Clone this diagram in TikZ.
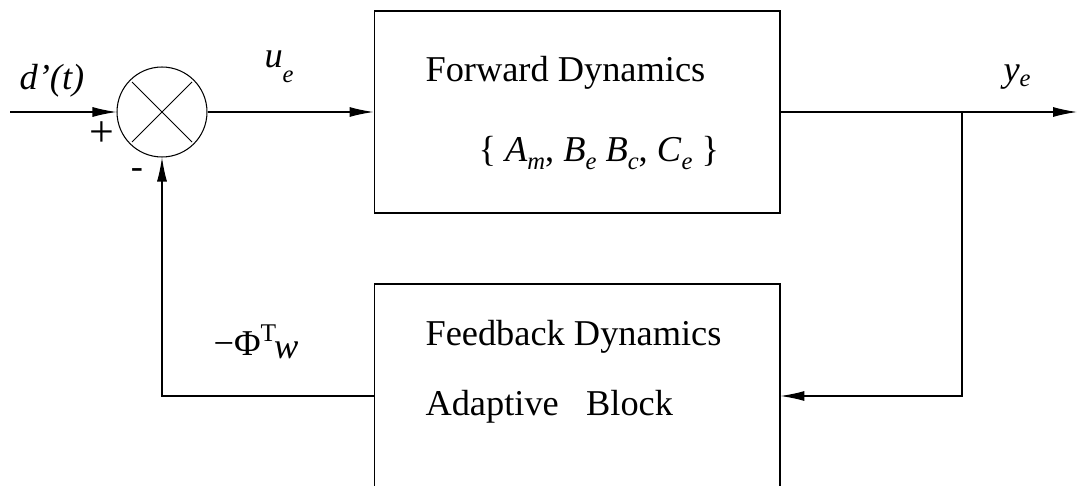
\documentclass[tikz,border=0pt]{standalone}
\usepackage{fontspec}
\setmainfont{Liberation Serif}
\usetikzlibrary{arrows.meta}
\newcommand{\sub}[2][4.5pt]{\raisebox{-#1}{\fontsize{14}{14}\selectfont\textit{#2}}}
\begin{document}
\begin{tikzpicture}[x=0.02cm,y=-0.02cm,line width=0.6pt,>={Latex[length=0.48cm,width=0.2cm]},font=\fontsize{20.7}{25}\selectfont]
                      \tikzstyle{block}=[rectangle,draw=black,minimum width=8.12cm,inner sep=0pt]
                      \tikzstyle{sum}=[circle,draw=black,minimum size=1.8cm,inner sep=0pt]
                      \tikzstyle{lbl}=[inner sep=0pt]
                      \useasboundingbox (0,0) rectangle (1077,486);
                      \clip (0,0) rectangle (1077,486);
                      \node[block,minimum height=4.04cm] (fwd) at (577,112) {};
                      \node[block,minimum height=4.48cm] (fbk) at (577,396) {};
                      \node[sum] (s) at (162,112) {};
                      \coordinate (in) at (10,112);
                      \coordinate (out) at (1077,112);
                      \coordinate (br) at (962,112);
                      \coordinate (bl) at (162,396);
                      \draw (s.center) ++(-30,-30) -- ++(60,60);
                      \draw (s.center) ++(-30,30) -- ++(60,-60);
                      \draw[->] (in) -- (s.west);
                      \draw[->] (s.east) -- (fwd.west);
                      \draw[->] (fwd.east) -- (out);
                      \draw[->] (br) -- (br |- fbk.east) -- (fbk.east);
                      \draw[->] (fbk.west) -- (bl) -- (s.south);
                      \node[lbl,anchor=base] (din) at (52,90) {\textit{d’(t)}};
                      \node[lbl,anchor=base west] (ue) at (264,68) {\textit{u}\sub[8pt]{e}};
                      \node[lbl,anchor=base west] (ye) at (1003,82) {\textit{y}\sub[2.5pt]{e}};
                      \node[lbl,font=\fontsize{25}{25}\selectfont] (plus) at (102,134) {+};
                      \node[lbl] (minus) at (137,174) {-};
                      \node[lbl,anchor=base west] (phi) at (213,355) {−Φ\textsuperscript{T}\kern-0.08em\raisebox{-0.1em}{\textit{w}}};
                      \node[lbl,anchor=base west] (t1) at (425,82) {Forward Dynamics};
                      \node[lbl,anchor=base west] (t2) at (478,162) {\{ \textit{A}\sub{m}, \textit{B}\sub{e} \textit{B}\sub{c}, \textit{C}\sub{e} \}};
                      \node[lbl,anchor=base west] (t3) at (425,345) {Feedback Dynamics};
                      \node[lbl,anchor=base west] (t4) at (425,415) {Adaptive\hspace{0.75em}Block};
                  \end{tikzpicture}
\end{document}
